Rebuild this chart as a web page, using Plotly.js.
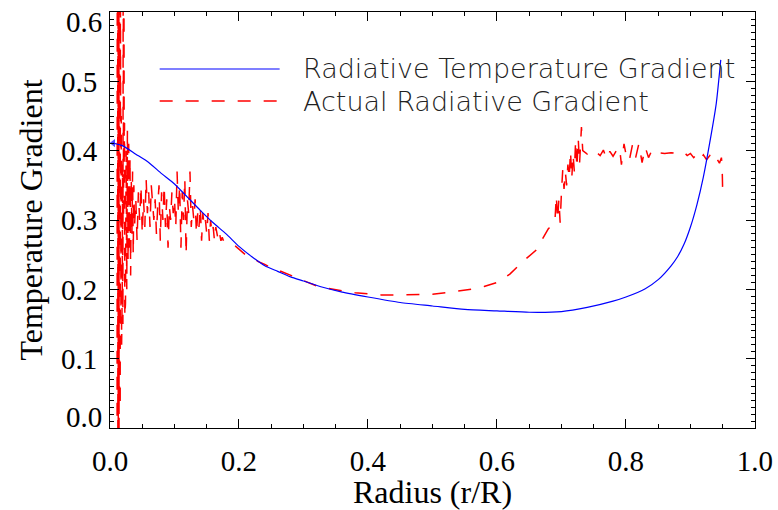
<!DOCTYPE html>
<html>
<head>
<meta charset="utf-8">
<script src="https://cdn.plot.ly/plotly-3.0.1.min.js"></script>
<style>html,body{margin:0;padding:0;background:#fff;}#chart{width:778px;height:510px;}</style>
</head>
<body>
<div id="chart"></div>
<script>
// Radiative temperature gradient (smooth curve)
const radX = [0.005, 0.02, 0.04, 0.06, 0.08, 0.10, 0.12, 0.14, 0.16, 0.18, 0.20, 0.22, 0.24, 0.26, 0.28, 0.30, 0.33, 0.36, 0.40, 0.45, 0.50, 0.55, 0.60, 0.65, 0.70, 0.74, 0.78, 0.80, 0.83, 0.85, 0.87, 0.88, 0.89, 0.90, 0.91, 0.92, 0.93, 0.94, 0.947];
const radY = [0.411, 0.407, 0.395, 0.383, 0.367, 0.352, 0.333, 0.314, 0.296, 0.280, 0.262, 0.247, 0.234, 0.226, 0.218, 0.212, 0.203, 0.196, 0.189, 0.181, 0.176, 0.171, 0.169, 0.167, 0.168, 0.174, 0.183, 0.189, 0.201, 0.214, 0.234, 0.247, 0.265, 0.290, 0.322, 0.362, 0.412, 0.468, 0.531];

// Actual radiative gradient (noisy)
const actX = [0.011, 0.0113, 0.0116, 0.0119, 0.0122, 0.0125, 0.0128, 0.0131, 0.0134, 0.0137, 0.014, 0.0143, 0.0146, 0.0149, 0.0152, 0.0155, 0.0158, 0.0161, 0.0164, 0.0167, 0.017, 0.0175, 0.018, 0.0185, 0.019, 0.0195, 0.020, 0.0205, 0.021, 0.0215, 0.022, 0.0225, 0.023, 0.0235, 0.024, 0.025, 0.026, 0.027, 0.028, 0.029, 0.030, 0.031, 0.032, 0.033, 0.034, 0.035, 0.036, 0.037, 0.038, 0.040, 0.042, 0.044, 0.046, 0.048, 0.050, 0.052, 0.054, 0.056, 0.058, 0.060, 0.062, 0.064, 0.066, 0.068, 0.070, 0.072, 0.074, 0.076, 0.078, 0.080, 0.082, 0.084, 0.086, 0.088, 0.090, 0.092, 0.094, 0.096, 0.098, 0.100, 0.102, 0.104, 0.106, 0.108, 0.110, 0.112, 0.114, 0.116, 0.118, 0.120, 0.122, 0.124, 0.126, 0.128, 0.130, 0.132, 0.134, 0.136, 0.138, 0.140, 0.142, 0.144, 0.146, 0.148, 0.150, 0.152, 0.154, 0.156, 0.158, 0.160, 0.162, 0.164, 0.166, 0.168, 0.170, 0.172, 0.174, 0.176, 0.180, 0.185, 0.19, 0.195, 0.20, 0.21, 0.22, 0.23, 0.24, 0.25, 0.26, 0.27, 0.28, 0.29, 0.30, 0.31, 0.32, 0.33, 0.34, 0.35, 0.36, 0.37, 0.38, 0.39, 0.40, 0.42, 0.44, 0.46, 0.48, 0.50, 0.52, 0.54, 0.56, 0.58, 0.60, 0.62, 0.64, 0.66, 0.67, 0.675, 0.68, 0.685, 0.69, 0.692, 0.694, 0.696, 0.698, 0.700, 0.702, 0.704, 0.706, 0.708, 0.710, 0.712, 0.714, 0.716, 0.718, 0.720, 0.722, 0.724, 0.726, 0.728, 0.730, 0.731, 0.733, 0.74, 0.745, 0.75, 0.755, 0.76, 0.765, 0.77, 0.775, 0.78, 0.785, 0.79, 0.793, 0.797, 0.80, 0.805, 0.81, 0.815, 0.82, 0.825, 0.83, 0.835, 0.84, 0.845, 0.85, 0.86, 0.87, 0.88, 0.89, 0.895, 0.90, 0.905, 0.91, 0.915, 0.92, 0.925, 0.93, 0.935, 0.94, 0.945, 0.948, 0.949, 0.9495, 0.95];
const actY = [-0.02, 0.80, -0.02, 0.78, 0.00, 0.80, -0.02, 0.76, 0.02, 0.80, -0.02, 0.74, 0.05, 0.80, 0.08, 0.72, 0.03, 0.70, 0.12, 0.65, 0.15, 0.45, 0.12, 0.40, 0.20, 0.38, 0.15, 0.78, 0.30, 0.75, 0.38, 0.44, 0.16, 0.42, 0.18, 0.40, 0.20, 0.43, 0.24, 0.41, 0.26, 0.39, 0.22, 0.36, 0.28, 0.37, 0.25, 0.35, 0.29, 0.33, 0.27, 0.34, 0.30, 0.35, 0.28, 0.33, 0.29, 0.36, 0.31, 0.34, 0.29, 0.35, 0.32, 0.30, 0.33, 0.28, 0.32, 0.35, 0.27, 0.34, 0.30, 0.35, 0.29, 0.33, 0.26, 0.32, 0.30, 0.34, 0.31, 0.33, 0.29, 0.37, 0.31, 0.35, 0.26, 0.34, 0.30, 0.36, 0.25, 0.33, 0.31, 0.37, 0.29, 0.32, 0.30, 0.33, 0.28, 0.31, 0.29, 0.32, 0.27, 0.31, 0.29, 0.30, 0.28, 0.31, 0.27, 0.30, 0.28, 0.29, 0.27, 0.29, 0.28, 0.27, 0.28, 0.27, 0.275, 0.27, 0.27, 0.268, 0.265, 0.262, 0.258, 0.250, 0.246, 0.240, 0.236, 0.231, 0.228, 0.224, 0.221, 0.216, 0.212, 0.208, 0.205, 0.203, 0.201, 0.199, 0.197, 0.196, 0.195, 0.194, 0.193, 0.192, 0.192, 0.192, 0.192, 0.193, 0.195, 0.197, 0.200, 0.204, 0.210, 0.222, 0.240, 0.256, 0.272, 0.282, 0.288, 0.290, 0.300, 0.335, 0.300, 0.330, 0.296, 0.340, 0.372, 0.345, 0.370, 0.350, 0.380, 0.360, 0.400, 0.360, 0.395, 0.370, 0.415, 0.375, 0.418, 0.380, 0.410, 0.434, 0.400, 0.395, 0.398, 0.394, 0.397, 0.393, 0.401, 0.388, 0.399, 0.392, 0.400, 0.405, 0.380, 0.410, 0.395, 0.385, 0.408, 0.390, 0.410, 0.383, 0.405, 0.390, 0.400, 0.395, 0.397, 0.396, 0.397, 0.396, 0.398, 0.393, 0.396, 0.390, 0.395, 0.388, 0.394, 0.387, 0.393, 0.385, 0.390, 0.382, 0.390, 0.380, 0.362, 0.340];

const xTickVals = [0.0, 0.2, 0.4, 0.6, 0.8, 1.0];
const yTickVals = [0.0, 0.1, 0.2, 0.3, 0.4, 0.5, 0.6];
const yTickText = ['', '0.1', '0.2', '0.3', '0.4', '0.5', ''];
const yEndLabels = ['0.0', '0.6'];
const legendLabels = ['Radiative Temperature Gradient', 'Actual Radiative Gradient'];
const axisTitles = {x: 'Radius (r/R)', y: 'Temperature Gradient'};

const DASH = '13px,13px';
const markerSizes = radX.map((v, i) => i === 0 ? 7 : 0);

const traces = [
  {x: actX, y: actY, mode: 'lines', line: {color: '#ff0000', width: 1.5, dash: DASH}, hoverinfo: 'skip'},
  {x: radX, y: radY, mode: 'lines+markers', line: {color: '#0000ff', width: 1.2, shape: 'spline', smoothing: 0.6},
   marker: {size: markerSizes, symbol: 'triangle-left', color: '#0000ff', line: {width: 0}}, hoverinfo: 'skip'}
];

const tickFont = {family: 'Liberation Serif, Times New Roman, serif', size: 29, color: '#000'};
const titleFont = {family: 'Liberation Serif, Times New Roman, serif', size: 32, color: '#000'};
const legendFont = {family: 'DejaVu Sans ExtraLight, DejaVu Sans', weight: 200, size: 27, color: '#222'};
const axisCommon = {
  showgrid: false, zeroline: false, showline: true, linecolor: '#000', linewidth: 1,
  mirror: 'ticks', ticks: 'inside', ticklen: 9, tickwidth: 1, tickcolor: '#000',
  tickfont: tickFont, tickformat: '.1f'
};

const layout = {
  width: 778, height: 510,
  margin: {l: 110, r: 23, t: 12, b: 82},
  paper_bgcolor: '#fff', plot_bgcolor: '#fff',
  showlegend: false,
  xaxis: Object.assign({}, axisCommon, {
    range: [0, 1.0001], tickvals: xTickVals, ticklabelstandoff: 7,
    minor: {dtick: 0.05, ticklen: 4, tickcolor: '#000', ticks: 'inside'},
    title: {text: axisTitles.x, font: titleFont, standoff: 0}
  }),
  yaxis: Object.assign({}, axisCommon, {
    range: [0, 0.6001], tickvals: yTickVals, ticktext: yTickText, ticklabelstandoff: 6,
    minor: {dtick: 0.01, ticklen: 4, tickcolor: '#000', ticks: 'inside'},
    title: {text: axisTitles.y, font: titleFont, standoff: 8}
  }),
  shapes: [
    {type: 'line', xref: 'paper', yref: 'paper', x0: 0.077, x1: 0.263, y0: 0.863, y1: 0.863, line: {color: '#0000ff', width: 1.2}},
    {type: 'line', xref: 'paper', yref: 'paper', x0: 0.077, x1: 0.263, y0: 0.786, y1: 0.786, line: {color: '#ff0000', width: 1.5, dash: DASH}}
  ],
  annotations: [
    {xref: 'paper', yref: 'paper', x: 0.296, y: 0.863, xanchor: 'left', yanchor: 'middle', showarrow: false,
     text: legendLabels[0], font: legendFont},
    {xref: 'paper', yref: 'paper', x: 0.296, y: 0.786, xanchor: 'left', yanchor: 'middle', showarrow: false,
     text: legendLabels[1], font: legendFont},
    {xref: 'paper', yref: 'y', x: 0, y: yTickVals[0], xanchor: 'right', yanchor: 'middle', xshift: -6, yshift: 11,
     showarrow: false, text: yEndLabels[0], font: tickFont},
    {xref: 'paper', yref: 'y', x: 0, y: yTickVals[6], xanchor: 'right', yanchor: 'middle', xshift: -6, yshift: -10,
     showarrow: false, text: yEndLabels[1], font: tickFont}
  ]
};

Plotly.newPlot('chart', traces, layout, {displayModeBar: false, staticPlot: true});
</script>
</body>
</html>
